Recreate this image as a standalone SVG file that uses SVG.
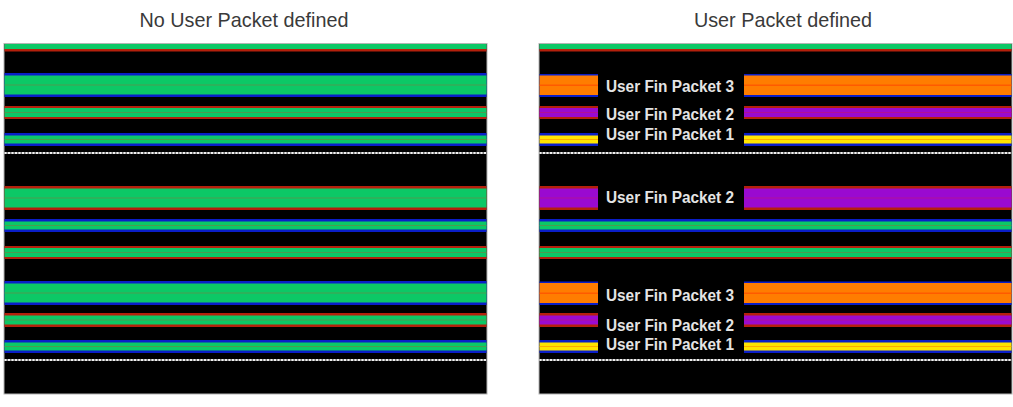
<svg xmlns="http://www.w3.org/2000/svg" width="1013" height="407" viewBox="0 0 1013 407">
<style>
.bg{fill:#000;stroke:#b4b4b4;stroke-width:1}
.title{font-family:"Liberation Sans",Arial,sans-serif;font-size:19.8px;fill:#3a3a3a;text-anchor:middle}
.lbl{font-family:"Liberation Sans",Arial,sans-serif;font-size:16px;font-weight:bold;fill:#e4e4e4}
.blu{fill:#0a1ec8}
.red{fill:#b4200c}
.grn{fill:#0cc866}
.gl{fill:#4c9c50}
.org{fill:#ff7d00}
.ol{fill:#ff5a00}
.pur{fill:#9a0ad0}
.pl{fill:#b0109a}
.yel{fill:#ffe400}
.yl{fill:#ffaa00}
.dotbase{fill:#7a7a7a}
.dot{stroke:#f0f0f0;stroke-width:2;stroke-dasharray:2 1.5}
</style>

<text class="title" x="244" y="27">No User Packet defined</text>
<text class="title" x="783" y="27">User Packet defined</text>

<g id="panel-left">
  <rect class="bg" x="4" y="43.5" width="483" height="350.5"/>
  <!-- top band -->
  <rect class="grn" x="4.5" y="44" width="482" height="5"/>
  <rect class="red" x="4.5" y="49" width="482" height="2.5"/>
  <!-- band 2 -->
  <rect class="blu" x="4.5" y="73" width="482" height="24"/>
  <rect class="grn" x="4.5" y="75.5" width="482" height="19"/>
  <rect class="gl" x="4.5" y="84.5" width="482" height="1"/>
  <!-- band 3 -->
  <rect class="red" x="4.5" y="106" width="482" height="13"/>
  <rect class="grn" x="4.5" y="108" width="482" height="9"/>
  <rect class="gl" x="4.5" y="112" width="482" height="1"/>
  <!-- band 4 -->
  <rect class="blu" x="4.5" y="133" width="482" height="13"/>
  <rect class="grn" x="4.5" y="135.5" width="482" height="8"/>
  <rect class="gl" x="4.5" y="139" width="482" height="1"/>
  <!-- dotted -->
  <rect class="dotbase" x="4.5" y="152" width="482" height="2"/>
  <line class="dot" x1="4.5" y1="153" x2="486.5" y2="153"/>
  <!-- band 5 -->
  <rect class="red" x="4.5" y="186" width="482" height="24"/>
  <rect class="grn" x="4.5" y="188.5" width="482" height="19"/>
  <rect class="gl" x="4.5" y="197.5" width="482" height="1"/>
  <!-- band 6 -->
  <rect class="blu" x="4.5" y="219" width="482" height="13"/>
  <rect class="grn" x="4.5" y="221.5" width="482" height="8"/>
  <rect class="gl" x="4.5" y="225" width="482" height="1"/>
  <!-- band 7 -->
  <rect class="red" x="4.5" y="246" width="482" height="13"/>
  <rect class="grn" x="4.5" y="248" width="482" height="9"/>
  <rect class="gl" x="4.5" y="252" width="482" height="1"/>
  <!-- band 8 -->
  <rect class="blu" x="4.5" y="281" width="482" height="24"/>
  <rect class="grn" x="4.5" y="283.5" width="482" height="19"/>
  <rect class="gl" x="4.5" y="292.5" width="482" height="1"/>
  <!-- band 9 -->
  <rect class="red" x="4.5" y="313" width="482" height="14"/>
  <rect class="grn" x="4.5" y="315.5" width="482" height="9"/>
  <rect class="gl" x="4.5" y="319.5" width="482" height="1"/>
  <!-- band 10 -->
  <rect class="blu" x="4.5" y="340" width="482" height="13"/>
  <rect class="grn" x="4.5" y="342.5" width="482" height="8"/>
  <rect class="gl" x="4.5" y="346" width="482" height="1"/>
  <!-- dotted -->
  <rect class="dotbase" x="4.5" y="359" width="482" height="2"/>
  <line class="dot" x1="4.5" y1="360" x2="486.5" y2="360"/>
</g>

<g id="panel-right">
  <rect class="bg" x="539" y="43.5" width="473" height="350.5"/>
  <!-- top band -->
  <rect class="grn" x="539.5" y="44" width="472" height="5"/>
  <rect class="red" x="539.5" y="49" width="472" height="2.5"/>

  <!-- group 1: orange 3 -->
  <rect class="blu" x="539.5" y="74" width="58.5" height="23"/>
  <rect class="org" x="539.5" y="75.5" width="58.5" height="19.5"/>
  <rect class="ol" x="539.5" y="84.5" width="58.5" height="1.5"/>
  <rect class="blu" x="744" y="74" width="267.5" height="23"/>
  <rect class="org" x="744" y="75.5" width="267.5" height="19.5"/>
  <rect class="ol" x="744" y="84.5" width="267.5" height="1.5"/>
  <!-- purple 2 -->
  <rect class="red" x="539.5" y="106" width="58.5" height="13"/>
  <rect class="pur" x="539.5" y="108" width="58.5" height="9"/>
  <rect class="pl" x="539.5" y="112" width="58.5" height="1"/>
  <rect class="red" x="744" y="106" width="267.5" height="13"/>
  <rect class="pur" x="744" y="108" width="267.5" height="9"/>
  <rect class="pl" x="744" y="112" width="267.5" height="1"/>
  <!-- yellow 1 -->
  <rect class="blu" x="539.5" y="133" width="58.5" height="13"/>
  <rect class="yel" x="539.5" y="135.5" width="58.5" height="8"/>
  <rect class="yl" x="539.5" y="139" width="58.5" height="1"/>
  <rect class="blu" x="744" y="133" width="267.5" height="13"/>
  <rect class="yel" x="744" y="135.5" width="267.5" height="8"/>
  <rect class="yl" x="744" y="139" width="267.5" height="1"/>
  <text class="lbl" x="606" y="92" textLength="128" lengthAdjust="spacingAndGlyphs">User Fin Packet 3</text>
  <text class="lbl" x="606" y="119.5" textLength="128" lengthAdjust="spacingAndGlyphs">User Fin Packet 2</text>
  <text class="lbl" x="606" y="140" textLength="128" lengthAdjust="spacingAndGlyphs">User Fin Packet 1</text>
  <!-- dotted -->
  <rect class="dotbase" x="539.5" y="152" width="472" height="2"/>
  <line class="dot" x1="539.5" y1="153" x2="1011.5" y2="153"/>

  <!-- group 2: purple 2 -->
  <rect class="red" x="539.5" y="186" width="58.5" height="24"/>
  <rect class="pur" x="539.5" y="188.5" width="58.5" height="19"/>
  <rect class="pl" x="539.5" y="197.5" width="58.5" height="1"/>
  <rect class="red" x="744" y="186" width="267.5" height="24"/>
  <rect class="pur" x="744" y="188.5" width="267.5" height="19"/>
  <rect class="pl" x="744" y="197.5" width="267.5" height="1"/>
  <text class="lbl" x="606" y="203" textLength="128" lengthAdjust="spacingAndGlyphs">User Fin Packet 2</text>
  <!-- band 6 -->
  <rect class="blu" x="539.5" y="219" width="472" height="13"/>
  <rect class="grn" x="539.5" y="221.5" width="472" height="8"/>
  <rect class="gl" x="539.5" y="225" width="472" height="1"/>
  <!-- band 7 -->
  <rect class="red" x="539.5" y="246" width="472" height="13"/>
  <rect class="grn" x="539.5" y="248" width="472" height="9"/>
  <rect class="gl" x="539.5" y="252" width="472" height="1"/>

  <!-- group 3: orange 3 -->
  <rect class="blu" x="539.5" y="281.5" width="58.5" height="23.5"/>
  <rect class="org" x="539.5" y="283" width="58.5" height="20"/>
  <rect class="ol" x="539.5" y="292.5" width="58.5" height="1.5"/>
  <rect class="blu" x="744" y="281.5" width="267.5" height="23.5"/>
  <rect class="org" x="744" y="283" width="267.5" height="20"/>
  <rect class="ol" x="744" y="292.5" width="267.5" height="1.5"/>
  <!-- purple 2 -->
  <rect class="red" x="539.5" y="313" width="58.5" height="14"/>
  <rect class="pur" x="539.5" y="315.5" width="58.5" height="9"/>
  <rect class="pl" x="539.5" y="319.5" width="58.5" height="1"/>
  <rect class="red" x="744" y="313" width="267.5" height="14"/>
  <rect class="pur" x="744" y="315.5" width="267.5" height="9"/>
  <rect class="pl" x="744" y="319.5" width="267.5" height="1"/>
  <!-- yellow 1 -->
  <rect class="blu" x="539.5" y="340" width="58.5" height="13"/>
  <rect class="yel" x="539.5" y="342.5" width="58.5" height="8"/>
  <rect class="yl" x="539.5" y="346" width="58.5" height="1"/>
  <rect class="blu" x="744" y="340" width="267.5" height="13"/>
  <rect class="yel" x="744" y="342.5" width="267.5" height="8"/>
  <rect class="yl" x="744" y="346" width="267.5" height="1"/>
  <text class="lbl" x="606" y="301" textLength="128" lengthAdjust="spacingAndGlyphs">User Fin Packet 3</text>
  <text class="lbl" x="606" y="331" textLength="128" lengthAdjust="spacingAndGlyphs">User Fin Packet 2</text>
  <text class="lbl" x="606" y="350" textLength="128" lengthAdjust="spacingAndGlyphs">User Fin Packet 1</text>
  <!-- dotted -->
  <rect class="dotbase" x="539.5" y="359" width="472" height="2"/>
  <line class="dot" x1="539.5" y1="360" x2="1011.5" y2="360"/>
</g>
</svg>
